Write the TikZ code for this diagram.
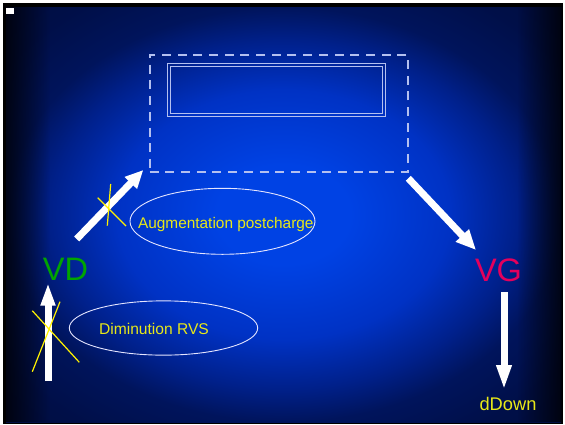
\documentclass[tikz,border=0pt]{standalone}
\usepackage{fontspec}
\setmainfont{Liberation Sans}
\usetikzlibrary{arrows.meta,shapes.geometric,fadings}
\definecolor{bgc0}{RGB}{0,66,228}
\definecolor{bgc1}{RGB}{0,50,196}
\definecolor{bgc2}{RGB}{0,32,138}
\definecolor{bgc3}{RGB}{0,20,92}
\definecolor{bgc4}{RGB}{0,15,72}
\definecolor{bgc5}{RGB}{0,12,58}
\definecolor{boxcol}{RGB}{180,192,240}
\definecolor{vdgreen}{RGB}{0,165,0}
\definecolor{vgred}{RGB}{228,0,92}
\definecolor{txtyellow}{RGB}{232,232,24}
\pgfdeclareradialshading{bgshade}{\pgfpoint{0bp}{0bp}}{color(0bp)=(bgc0); color(6bp)=(bgc0); color(15bp)=(bgc1); color(21bp)=(bgc2); color(25bp)=(bgc3); color(31bp)=(bgc4); color(40bp)=(bgc5)}
\tikzset{
  dashbox/.style={draw=boxcol, line width=2pt, dash pattern=on 9pt off 6.7pt, minimum width=258pt, minimum height=117.5pt, inner sep=0pt},
  titlebox/.style={draw=boxcol, line width=1pt, inner sep=0pt},
  oval/.style={ellipse, draw=white!90!blue, line width=0.9pt, inner sep=0pt},
  bigarrow/.style={draw=white, line width=7pt},
  cross/.style={draw=yellow, line width=1.2pt},
  label/.style={text=txtyellow, anchor=base, inner sep=0pt},
  big/.style={anchor=base, inner sep=0pt, font=\fontsize{32.5}{34}\selectfont}
}
\begin{document}
\begin{tikzpicture}[x=1pt,y=-1pt]
\useasboundingbox (0,0) rectangle (565,424);
\fill[white] (0,0) rectangle (565,424);
\fill[black] (3,3) rectangle (563,424);
\begin{scope}
  \clip (6,7) rectangle (561,422);
  \shade[shading=bgshade] (6,7) rectangle (561,422);
  \fill[black, path fading=east, fill opacity=0.75] (6,7) rectangle (50,422);
  \fill[black, path fading=west, fill opacity=0.75] (517,7) rectangle (561,422);
\end{scope}
\fill[white] (6,8) rectangle (14,14);

% boxes
\node[dashbox] (box) at (278.6,113.25) {};
\node[titlebox, minimum width=218.4pt, minimum height=53pt] (title) at (276.5,89.8) {};
\node[titlebox, minimum width=212.4pt, minimum height=47pt] (titlein) at (276.5,89.8) {};

% ovals and texts
\node[oval, minimum width=185pt, minimum height=66pt] (e1) at (222.5,221.3) {};
\node[label, font=\fontsize{15.4}{17}\selectfont] (aug) at (225.8,228.3) {Augmentation postcharge};
\node[oval, minimum width=188.4pt, minimum height=54.3pt] (e2) at (163.5,328) {};
\node[label, font=\fontsize{15.6}{17}\selectfont] (dim) at (154,334) {Diminution RVS};

\node[big, text=vdgreen] (VD) at (65.5,280.3) {VD};
\node[big, text=vgred] (VG) at (498.5,281.6) {VG};
\node[label, font=\fontsize{18.3}{20}\selectfont] (dDown) at (508,410.7) {dDown};

% arrow coordinates
\coordinate (a1s) at (76.7,239);
\coordinate (a1e) at (143.3,170);
\coordinate (a2s) at (48,381);
\coordinate (a2e) at (48,282.7);
\coordinate (a3s) at (408.3,178.3);
\coordinate (a3e) at (476,250);
\coordinate (a4s) at (504,292);
\coordinate (a4e) at (504,390);

\draw[bigarrow, -{Triangle[length=18pt,width=16pt]}] (a1s) -- (a1e);
\draw[bigarrow, -{Triangle[length=23pt,width=13.5pt]}] (a2s) -- (a2e);
\draw[bigarrow, -{Triangle[length=20pt,width=17pt]}] (a3s) -- (a3e);
\draw[bigarrow, -{Triangle[length=25pt,width=14pt]}] (a4s) -- (a4e);

% yellow crosses
\coordinate (x1a) at (110.7,184);
\coordinate (x1b) at (107.3,225.7);
\coordinate (x1c) at (97.7,197.7);
\coordinate (x1d) at (126,226);
\draw[cross] (x1a) -- (x1b);
\draw[cross] (x1c) -- (x1d);
\coordinate (x2a) at (60,301.7);
\coordinate (x2b) at (32.3,371.7);
\coordinate (x2c) at (32.3,310.7);
\coordinate (x2d) at (79.3,362.3);
\draw[cross] (x2a) -- (x2b);
\draw[cross] (x2c) -- (x2d);
\end{tikzpicture}
\end{document}
